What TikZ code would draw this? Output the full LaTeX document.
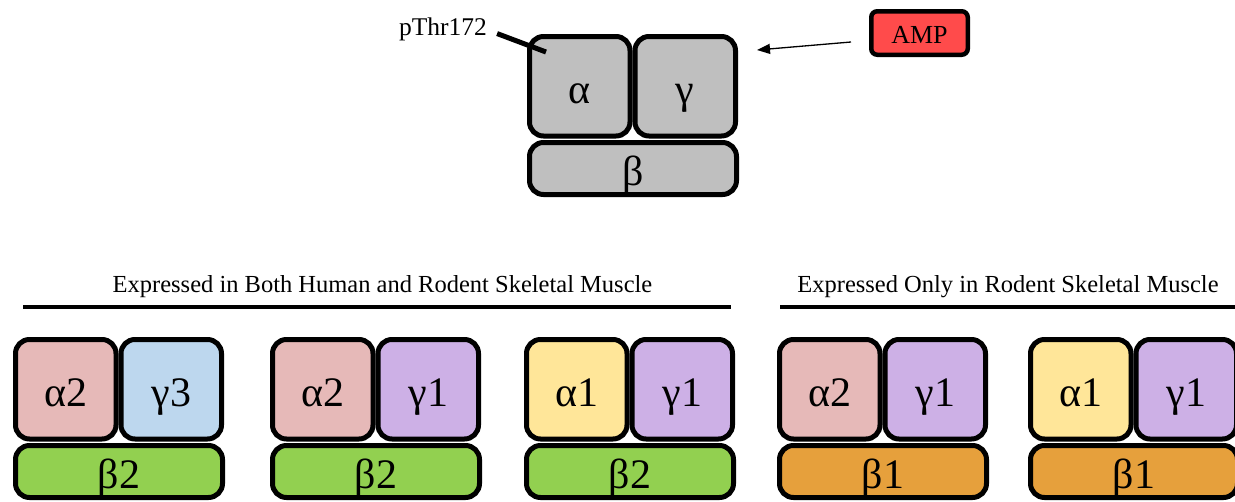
\documentclass[tikz,border=0pt]{standalone}
\usepackage{fontspec}
\setmainfont{Liberation Serif}
\usetikzlibrary{arrows.meta,calc}
\definecolor{cgray}{HTML}{BFBFBF}
\definecolor{cpink}{HTML}{E6B9B8}
\definecolor{cblue}{HTML}{BDD7EE}
\definecolor{cpurple}{HTML}{CDB0E6}
\definecolor{cyellow}{HTML}{FFE699}
\definecolor{cgreen}{HTML}{92D050}
\definecolor{corange}{HTML}{E6A03C}
\definecolor{cred}{HTML}{FF4B4B}
\tikzset{
  unitbox/.style={draw=black, line width=5pt, rounded corners=14pt, inner sep=0pt,
    text height=34pt, text depth=0pt, font=\fontsize{42}{44}\selectfont},
  subbox/.style={unitbox, minimum width=100.5pt, minimum height=99.5pt},
  basebox/.style={unitbox, minimum width=207pt, minimum height=52pt},
  topfont/.style={font=\fontsize{44}{46}\selectfont},
  heading/.style={anchor=base, inner sep=0pt, font=\fontsize{24.5}{26}\selectfont},
  rule/.style={line width=4.5pt},
  ampbox/.style={draw=black, fill=cred, line width=4.5pt, rounded corners=6pt,
    minimum width=96.5pt, minimum height=43.5pt, inner sep=0pt,
    text height=20pt, text depth=0pt, font=\fontsize{26}{28}\selectfont},
  labeltext/.style={anchor=base, inner sep=2pt, font=\fontsize{25.5}{27}\selectfont},
  pline/.style={line width=5pt},
  amparrow/.style={line width=1.3pt, -{Triangle[length=13pt,width=10pt]}}
}
% #1 name prefix, #2 left, #3 top, #4 alpha label, #5 alpha colour,
% #6 gamma label, #7 gamma colour, #8 beta label, #9 beta colour
\newcommand\ampkgroup[9]{%
  \node[subbox, fill=#5] (#1a) at ({#2+52.75},{#3+52.25}) {#4};
  \node[subbox, fill=#7] (#1g) at ({#2+158.25},{#3+52.25}) {#6};
  \node[basebox, fill=#9] (#1b) at ({#2+106},{#3+134.5}) {#8};
}
\begin{document}
\begin{tikzpicture}[x=1pt, y=-1pt]
\clip (0,0) rectangle (1235,501);
\fill[white] (0,0) rectangle (1235,501);

% top complex
\begin{scope}[every node/.append style={topfont}]
\ampkgroup{t}{527}{34}{α}{cgray}{γ}{cgray}{β}{cgray}
\end{scope}

\node[labeltext] (pthr) at (443,35) {pThr172};
\coordinate (pend) at (546,52);
\draw[pline] ([shift={(8pt,-4.7pt)}]pthr.east) -- (pend);

\node[ampbox] (amp) at (919.5,33) {AMP};
\coordinate (amptip) at (757,50);
\draw[amparrow] ($(amp.west)+(-18pt,-9pt)$) -- (amptip);

% headings
\node[heading] (h1) at (382.5,292) {Expressed in Both Human and Rodent Skeletal Muscle};
\node[heading] (h2) at (1008,292) {Expressed Only in Rodent Skeletal Muscle};
\draw[rule] (23,307) -- (731,307);
\draw[rule] (780,307) -- (1240,307);

% bottom isoform complexes
\ampkgroup{g1}{13}{337}{α2}{cpink}{γ3}{cblue}{β2}{cgreen}
\ampkgroup{g2}{270}{337}{α2}{cpink}{γ1}{cpurple}{β2}{cgreen}
\ampkgroup{g3}{524}{337}{α1}{cyellow}{γ1}{cpurple}{β2}{cgreen}
\ampkgroup{g4}{777}{337}{α2}{cpink}{γ1}{cpurple}{β1}{corange}
\ampkgroup{g5}{1028}{337}{α1}{cyellow}{γ1}{cpurple}{β1}{corange}
\end{tikzpicture}
\end{document}
